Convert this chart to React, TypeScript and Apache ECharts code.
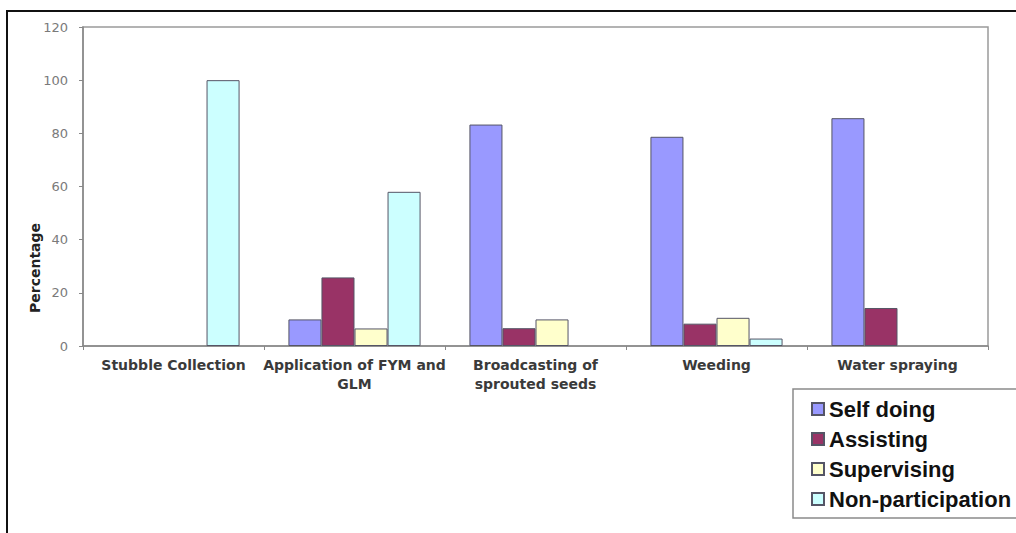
import React, { useEffect, useRef } from "react";
import * as echarts from "echarts";

const categories = [
  "Stubble Collection",
  "Application of FYM and\nGLM",
  "Broadcasting of\nsprouted seeds",
  "Weeding",
  "Water spraying",
];

const selfDoing = [0, 10, 83.3, 78.7, 85.7];
const assisting = [0, 25.8, 6.7, 8.4, 14.3];
const supervising = [0, 6.6, 10, 10.6, 0];
const nonParticipation = [100, 58, 0, 2.8, 0];

const yTicks = { min: 0, max: 120, interval: 20 };

const seriesNames = ["Self doing", "Assisting", "Supervising", "Non-participation"];
const seriesColors = ["#9999FF", "#993366", "#FFFFCC", "#CCFFFF"];
const seriesData = [selfDoing, assisting, supervising, nonParticipation];

export default function App() {
  const ref = useRef<HTMLDivElement>(null);

  useEffect(() => {
    if (!ref.current) return;
    const chart = echarts.init(ref.current, null, { renderer: "svg" });

    chart.setOption({
      animation: false,
      backgroundColor: "#ffffff",
      grid: {
        left: 83,
        top: 27,
        right: 28,
        bottom: 187,
        show: true,
        borderColor: "#9a9a9a",
        borderWidth: 1.5,
        backgroundColor: "transparent",
      },
      xAxis: {
        type: "category",
        data: categories,
        axisLine: { lineStyle: { color: "#888888", width: 1.5 } },
        axisTick: { show: true, length: 4, lineStyle: { color: "#888888" } },
        axisLabel: {
          interval: 0,
          margin: 9,
          color: "#3a3a3a",
          fontFamily: "DejaVu Sans",
          fontWeight: "bold",
          fontSize: 14,
          lineHeight: 19,
        },
      },
      yAxis: {
        type: "value",
        min: yTicks.min,
        max: yTicks.max,
        interval: yTicks.interval,
        splitLine: { show: false },
        axisLine: { show: true, lineStyle: { color: "#888888", width: 1.5 } },
        axisTick: { show: true, length: 4, lineStyle: { color: "#888888" } },
        axisLabel: {
          margin: 15,
          color: "#7a7a7a",
          fontFamily: "DejaVu Sans",
          fontSize: 13,
        },
      },
      legend: {
        orient: "vertical",
        left: 793,
        top: 389,
        padding: [9, 30, 8, 18],
        itemWidth: 12,
        itemHeight: 12,
        itemGap: 8,
        borderColor: "#8a8a8a",
        borderWidth: 1.5,
        backgroundColor: "#ffffff",
        icon: "rect",
        textStyle: {
          color: "#111111",
          fontFamily: "Liberation Sans",
          fontWeight: "bold",
          fontSize: 22,
          lineHeight: 22,
        },
        data: seriesNames,
      },
      graphic: [
        {
          type: "text",
          x: 35,
          y: 268,
          rotation: Math.PI / 2,
          style: {
            text: "Percentage",
            fill: "#222222",
            font: "bold 14px 'DejaVu Sans'",
            align: "center",
            verticalAlign: "middle",
          },
        },
        {
          type: "line",
          shape: { x1: 6, y1: 11, x2: 1016, y2: 11 },
          style: { stroke: "#111111", lineWidth: 2 },
        },
        {
          type: "line",
          shape: { x1: 7, y1: 10, x2: 7, y2: 533 },
          style: { stroke: "#111111", lineWidth: 2 },
        },
      ],
      series: seriesNames.map((name, i) => ({
        name,
        type: "bar",
        // a zero share leaves its slot empty
        data: seriesData[i].map((v) => (v === 0 ? null : v)),
        barGap: "0%",
        barCategoryGap: "27%",
        itemStyle: {
          color: seriesColors[i],
          borderColor: "#555566",
          borderWidth: 1,
        },
      })),
    });

    return () => chart.dispose();
  }, []);

  return (
    <div
      ref={ref}
      style={{ position: "absolute", left: 0, top: 0, width: 1016, height: 533 }}
    />
  );
}
